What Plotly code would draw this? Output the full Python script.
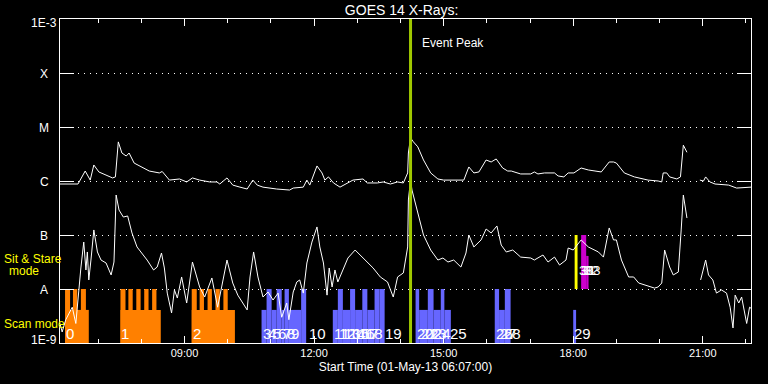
import math
import plotly.graph_objects as go
import pandas as pd

DAY = "2013-05-01 "

# ---------------- GOES 14 long channel (1-8 A) ----------------
long_time = ["06:07","06:20","06:32","06:42","06:49","06:54","07:01","07:20","07:24","07:28",
             "07:33","07:39","07:43","07:50","07:57","08:11","08:25","08:29","08:39","08:53",
             "09:03","09:11","09:21","09:35","09:45","09:49","09:59","10:07","10:17","10:27",
             "10:35","10:41","10:49","11:08","11:26","11:31","11:45","11:50","11:54","12:04",
             "12:11","12:15","12:20","12:27","12:36","12:46","12:54","13:08","13:14","13:28",
             "13:36","13:46","13:56","14:04","14:10","14:11","14:14","14:18","14:24","14:32",
             "14:42","14:52","15:00","15:20","15:28","15:35","15:42","15:49","15:59","16:06",
             "16:13","16:22","16:29","16:34","16:47","17:01","17:06","17:11","17:20","17:34",
             "17:39","17:47","17:53","18:01","18:11","18:21","18:39","18:50","18:56","19:00",
             "19:11","19:25","19:44","19:58","20:03","20:05","20:10","20:14","20:24","20:29",
             "20:32","20:33","20:38","20:47","20:56","21:01","21:04","21:10","21:17","21:36",
             "21:47","21:59","22:07"]
long_flux = [8.8e-7,8.8e-7,8.8e-7,1.53e-6,1.04e-6,1.98e-6,1.47e-6,1.14e-6,1.19e-6,5.3e-6,
             3.3e-6,2.9e-6,3.3e-6,2.15e-6,1.9e-6,1.53e-6,1.41e-6,1.5e-6,1.04e-6,1.09e-6,
             9.6e-7,1.14e-6,1.04e-6,9.6e-7,9.6e-7,8.8e-7,1.14e-6,8.4e-7,7.7e-7,7.1e-7,
             1.04e-6,8.4e-7,7.7e-7,7.1e-7,6.8e-7,7.4e-7,7.7e-7,1.04e-6,8.4e-7,1.9e-6,
             1.41e-6,1.04e-6,1.19e-6,9.2e-7,7.7e-7,9.2e-7,1.04e-6,1.09e-6,9.2e-7,9.2e-7,
             9.6e-7,8.8e-7,9.6e-7,9.2e-7,1.41e-6,3.3e-6,6.3e-6,5.3e-6,4.3e-6,2.45e-6,
             1.41e-6,1.09e-6,1.04e-6,1.04e-6,1.04e-6,1.82e-6,1.41e-6,1.47e-6,2.45e-6,2.25e-6,
             2.56e-6,1.74e-6,1.53e-6,1.53e-6,1.35e-6,1.35e-6,1.47e-6,1.35e-6,1.41e-6,1.41e-6,
             1.24e-6,1.19e-6,1.41e-6,1.41e-6,1.74e-6,1.6e-6,1.47e-6,2.25e-6,2.25e-6,2.15e-6,
             1.41e-6,1.19e-6,1.04e-6,1.0e-6,9.6e-7,1.41e-6,1.41e-6,1.19e-6,1.09e-6,1.19e-6,
             3.3e-6,4.6e-6,3.4e-6,None,1.04e-6,1.0e-6,1.19e-6,9.6e-7,8.8e-7,8.4e-7,
             7.4e-7,7.7e-7,7.7e-7]

# ---------------- GOES 14 short channel (0.5-4 A) ----------------
short_time = ["06:07","06:10","06:15","06:20","06:24","06:29","06:33","06:36","06:40","06:43",
              "06:45","06:47","06:50","06:54","06:59","07:04","07:11","07:18","07:22","07:25",
              "07:29","07:35","07:41","07:43","07:47","07:54","08:01","08:08","08:17","08:22",
              "08:28","08:32","08:36","08:42","08:46","08:50","08:56","09:03","09:11","09:21",
              "09:28","09:38","09:46","09:59","10:07","10:14","10:27","10:31","10:36","10:42",
              "10:49","10:56","11:03","11:10","11:15","11:22","11:25","11:31","11:36","11:40",
              "11:45","11:50","11:57","12:04","12:08","12:13","12:18","12:21","12:25","12:29",
              "12:33","12:40","12:47","12:57","13:04","13:14","13:22","13:32","13:42","13:50",
              "13:56","14:04","14:10","14:11","14:14","14:16","14:24","14:32","14:42","14:52",
              "14:59","15:06","15:14","15:24","15:31","15:35","15:42","15:52","15:59","16:06",
              "16:14","16:20","16:27","16:36","16:47","17:01","17:06","17:18","17:25","17:34",
              "17:41","17:50","17:53","18:00","18:11","18:21","18:35","18:42","18:50","18:56",
              "19:00","19:07","19:17","19:24","19:31","19:39","19:53","19:58","20:03","20:07",
              "20:14","20:19","20:26","20:30","20:33","20:38","20:47","20:57","21:04","21:08",
              "21:14","21:19","21:26","21:33","21:38","21:42","21:45","21:50","21:54","22:01",
              "22:05","22:07"]
short_flux = [2.3e-9,1.6e-9,2.7e-9,3.75e-9,4.6e-9,2.3e-9,9.6e-9,2.45e-8,7.4e-8,2.25e-8,
              4.85e-8,1.47e-8,3.44e-8,1.24e-7,4.85e-8,3.44e-8,3.03e-8,1.82e-8,3.16e-8,5.5e-7,
              2.9e-7,2.15e-7,2.25e-7,1.74e-7,1.09e-7,6.0e-8,4.64e-8,3.44e-8,2.25e-8,2.55e-8,
              4.64e-8,2.45e-8,8.4e-9,3.6e-9,9.6e-9,6.8e-9,1.67e-8,5.5e-9,3.16e-8,1.09e-8,
              7.1e-9,1.6e-8,4.6e-9,3.44e-8,1.29e-8,7.7e-9,4.1e-9,1.67e-8,4.85e-8,1.67e-8,
              7.1e-9,8.8e-9,6.25e-9,8.4e-9,3.0e-9,5.5e-9,2.7e-9,8.8e-9,1.35e-8,1.47e-8,
              8.4e-9,3.03e-8,7.4e-8,1.41e-7,6.0e-8,3.03e-8,7.7e-9,2.45e-8,1.09e-8,2.25e-8,
              1.35e-8,2.25e-8,3.75e-8,5.27e-8,4.26e-8,3.16e-8,2.45e-8,1.67e-8,1.35e-8,7.1e-9,
              1.67e-8,1.98e-8,6.0e-8,4.45e-7,1.04e-6,6.8e-7,2.56e-7,1.0e-7,5.27e-8,3.44e-8,
              3.75e-8,3.16e-8,3.44e-8,2.55e-8,4.64e-8,1.0e-7,6.0e-8,8.1e-8,1.29e-7,1.09e-7,
              1.47e-7,6.5e-8,4.85e-8,5.27e-8,3.9e-8,3.75e-8,3.44e-8,4.26e-8,3.16e-8,3.9e-8,
              2.78e-8,3.44e-8,5.74e-8,5.27e-8,8.1e-8,6.0e-8,4.85e-8,3.9e-8,1.35e-7,8.1e-8,
              8.1e-8,3.44e-8,1.67e-8,1.67e-8,1.29e-8,1.19e-8,1.04e-8,1.09e-8,1.29e-8,5.27e-8,
              2.55e-8,1.82e-8,2.06e-8,1.24e-7,5.5e-7,2.06e-7,None,1.47e-8,3.44e-8,1.82e-8,
              1.47e-8,8.4e-9,9.6e-9,8.4e-9,4.6e-9,1.9e-9,7.7e-9,5.5e-9,7.1e-9,2.3e-9,
              4.6e-9,4.4e-9]

# ---------------- Observations ----------------
# large scan-mode observations (orange)
scan_num   = ["0", "1", "2"]
scan_start = ["06:14", "07:31", "09:10"]
scan_end   = ["06:47", "08:27", "10:10"]
# raster steps inside the large observations
step_start = ["06:14","06:25","06:36","07:31","07:42","07:53","08:04","08:15",
              "09:10","09:21","09:32","09:43","09:54"]
step_end   = ["06:21","06:31","06:43","07:38","07:48","07:59","08:10","08:21",
              "09:17","09:27","09:38","09:49","10:00"]

# short scan-mode observations (blue); kind "full" or "half"
obs_num   = ["3","4","5","6","7","8","9","10",
             "11","12","13","14","15","16","17","18","19",
             "20","21","22","23","24","25",
             "26","27","28","29"]
obs_start = ["10:47","10:54","11:01","11:08","11:15","11:19","11:25","11:42",
             "12:26","12:33","12:40","12:50","12:57","13:07","13:14","13:24","13:31",
             "14:21","14:26","14:38","14:46","14:56","15:01",
             "16:11","16:17","16:25","18:00"]
obs_end   = ["10:54","11:01","11:08","11:15","11:19","11:25","11:42","11:49",
             "12:33","12:40","12:50","12:57","13:07","13:14","13:24","13:31","13:38",
             "14:26","14:38","14:46","14:56","15:01","15:10",
             "16:17","16:25","16:33","18:04"]
obs_kind  = ["half","full","half","full","half","full","half","full",
             "half","full","half","full","half","full","half","full","full",
             "full","half","full","half","full","half",
             "full","half","full","half"]
obs_label_time = ["10:47","10:54","11:01","11:08","11:15","11:21","11:27","11:51",
                  "12:26","12:33","12:40","12:47","12:53","12:59","13:05","13:11","13:37",
                  "14:21","14:27","14:33","14:39","14:45","15:07",
                  "16:11","16:17","16:23","18:00"]

# sit & stare observations
ss_num   = ["30", "31", "32", "33"]
ss_start = ["18:02", "18:11", "18:18", "18:20"]
ss_end   = ["18:06", "18:18", "18:21", "18:21"]
ss_kind  = ["full", "full", "half", "half"]
ss_color = ["#ffff00", "#cc00cc", "#cc00cc", "#cc00cc"]
ss_label_time = ["18:06", "18:09", "18:13", "18:17"]

event_peak = "14:14"

level_vals   = [1e-9, 1e-8, 1e-7, 1e-6, 1e-5, 1e-4, 1e-3]
level_labels = ["1E-9", "A", "B", "C", "M", "X", "1E-3"]

# ---------------- helpers ----------------
def ts(hhmm):
    return pd.Timestamp(DAY + hhmm)

def bar_geom(starts, ends):
    s = pd.to_datetime([DAY + t for t in starts])
    e = pd.to_datetime([DAY + t for t in ends])
    mid = s + (e - s) / 2
    width = [(b - a).total_seconds() * 1000 for a, b in zip(s, e)]
    return list(mid), width

SCAN_BASE, SCAN_FULL, SCAN_HALF = 1e-9, 1e-8, 4.1e-9
SS_BASE, SS_FULL, SS_HALF = 1e-8, 1e-7, 4.1e-8

ORANGE = "#ff8000"
BLUE = "#6666ff"
WHITE = "#ffffff"
YELLOW = "#ffff00"
FONT = "Liberation Sans"

fig = go.Figure()

# orange large observations
mid, wid = bar_geom(scan_start, scan_end)
fig.add_trace(go.Bar(x=mid, width=wid, base=[SCAN_BASE] * len(mid),
                     y=[SCAN_HALF - SCAN_BASE] * len(mid),
                     marker=dict(color=ORANGE, line=dict(width=0)), hoverinfo="skip"))
mid, wid = bar_geom(step_start, step_end)
fig.add_trace(go.Bar(x=mid, width=wid, base=[SCAN_BASE] * len(mid),
                     y=[SCAN_FULL - SCAN_BASE] * len(mid),
                     marker=dict(color=ORANGE, line=dict(width=0)), hoverinfo="skip"))

# blue short observations
mid, wid = bar_geom(obs_start, obs_end)
tops = [SCAN_FULL if k == "full" else SCAN_HALF for k in obs_kind]
fig.add_trace(go.Bar(x=mid, width=wid, base=[SCAN_BASE] * len(mid),
                     y=[t - SCAN_BASE for t in tops],
                     marker=dict(color=BLUE, line=dict(width=0)), hoverinfo="skip"))

# sit & stare
mid, wid = bar_geom(ss_start, ss_end)
tops = [SS_FULL if k == "full" else SS_HALF for k in ss_kind]
fig.add_trace(go.Bar(x=mid, width=wid, base=[SS_BASE] * len(mid),
                     y=[t - SS_BASE for t in tops],
                     marker=dict(color=ss_color, line=dict(width=0)), hoverinfo="skip"))

# flux curves
fig.add_trace(go.Scatter(x=[ts(t) for t in long_time], y=long_flux, mode="lines",
                         line=dict(color=WHITE, width=1), connectgaps=False, hoverinfo="skip"))
fig.add_trace(go.Scatter(x=[ts(t) for t in short_time], y=short_flux, mode="lines",
                         line=dict(color=WHITE, width=1), connectgaps=False, hoverinfo="skip"))

# event peak
fig.add_vline(x=ts(event_peak), line=dict(color="#a0c800", width=3), layer="above")

annotations = []
# observation labels
for n, t in list(zip(scan_num, scan_start)) + list(zip(obs_num, obs_label_time)):
    annotations.append(dict(x=ts(t), y=-8.815, xref="x", yref="y", text=n, showarrow=False,
                            xanchor="left", yanchor="middle", xshift=-1,
                            font=dict(color=WHITE, size=15, family=FONT)))
for n, t in zip(ss_num, ss_label_time):
    annotations.append(dict(x=ts(t), y=-7.66, xref="x", yref="y", text=n, showarrow=False,
                            xanchor="left", yanchor="middle", xshift=-1,
                            font=dict(color=WHITE, size=13, family=FONT)))
# y-axis level labels (end labels nudged inside, as in the original)
for i, (v, lab) in enumerate(zip(level_vals, level_labels)):
    shift = 3 if i == 0 else (-4 if i == len(level_vals) - 1 else -1)
    annotations.append(dict(x=-0.023, y=math.log10(v), xref="paper", yref="y", text=lab,
                            showarrow=False, xanchor="center", yanchor="middle", yshift=shift,
                            font=dict(color=WHITE, size=12, family=FONT)))
# mode labels
annotations += [
    dict(x=-0.0839, y=0.259, xref="paper", yref="paper", text="Sit & Stare", showarrow=False,
         xanchor="left", yanchor="middle", font=dict(color=YELLOW, size=12, family=FONT)),
    dict(x=-0.0514, y=0.222, xref="paper", yref="paper", text="mode", showarrow=False,
         xanchor="center", yanchor="middle", font=dict(color=YELLOW, size=12, family=FONT)),
    dict(x=-0.0839, y=0.059, xref="paper", yref="paper", text="Scan mode", showarrow=False,
         xanchor="left", yanchor="middle", font=dict(color=YELLOW, size=12, family=FONT)),
    dict(x=ts(event_peak), y=0.926, xref="x", yref="paper", text="Event Peak", showarrow=False,
         xanchor="left", yanchor="middle", xshift=9, font=dict(color=WHITE, size=12, family=FONT)),
]

fig.update_layout(
    width=768, height=384,
    margin=dict(l=60, r=17, t=19, b=41),
    paper_bgcolor="black", plot_bgcolor="black",
    showlegend=False, barmode="overlay",
    title=dict(text="GOES 14 X-Rays:", x=0.523, xanchor="center", y=0.974, yanchor="middle",
               font=dict(color=WHITE, size=14, family=FONT)),
    annotations=annotations,
    font=dict(family=FONT, color=WHITE),
)

fig.update_xaxes(
    type="date", range=[ts("06:07"), ts("22:07")],
    showgrid=False, zeroline=False,
    showline=True, linecolor=WHITE, linewidth=1, mirror="ticks",
    ticks="inside", ticklen=7, tickcolor=WHITE, tickwidth=1,
    tick0=DAY + "00:00", dtick=3 * 3600000, tickformat="%H:%M",
    tickfont=dict(color=WHITE, size=11, family=FONT),
    minor=dict(dtick=3600000, tick0=DAY + "00:00", ticks="inside", ticklen=4,
               tickcolor=WHITE, tickwidth=1, showgrid=False),
    title=dict(text="Start Time (01-May-13 06:07:00)", standoff=4,
               font=dict(color=WHITE, size=12, family=FONT)),
)
fig.update_yaxes(
    type="log", range=[-9, -3],
    tickvals=level_vals, showticklabels=False,
    ticks="inside", ticklen=14, tickcolor=WHITE, tickwidth=1,
    showline=True, linecolor=WHITE, linewidth=1, mirror="ticks",
    showgrid=True, gridcolor=WHITE, gridwidth=1, griddash="1px,5px",
    zeroline=False,
)

fig.write_html("out.html", config={"displayModeBar": False, "staticPlot": True},
               post_script="document.body.style.margin='0px';document.body.style.background='black';")
